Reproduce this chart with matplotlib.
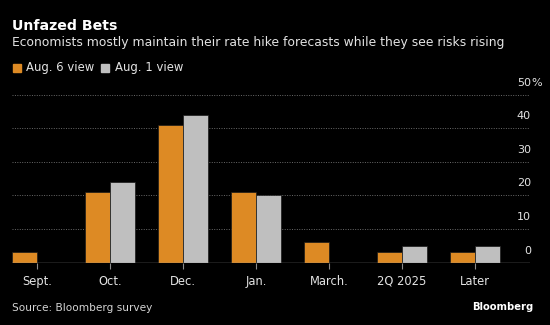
import matplotlib.pyplot as plt
import numpy as np

# values (percent of economists)
periods = ['Sept.', 'Oct.', 'Dec.', 'Jan.', 'March.', '2Q 2025', 'Later']
aug6 = [3, 21, 41, 21, 6, 3, 3]
aug1 = [0, 24, 44, 20, 0, 5, 5]
yticks = [0, 10, 20, 30, 40, 50]

orange = '#dd8a24'
grey = '#bfbfbf'
bg = 'black'
txt = '#e3e3e3'
plt.rcParams['font.family'] = ['DejaVu Sans']

fig = plt.figure(figsize=(5.5, 3.25), dpi=100, facecolor=bg)
ax = fig.add_axes([12 / 550, 1 - 262.5 / 325, 518 / 550, 168 / 325])
ax.set_facecolor(bg)

x = np.arange(len(periods))
w = 0.347
ax.bar(x - w / 2, aug6, w, color=orange, edgecolor='#1a1a1a', linewidth=0.5, zorder=3)
ax.bar(x + w / 2, aug1, w, color=grey, edgecolor='#1a1a1a', linewidth=0.5, zorder=3)

ax.set_xlim(-0.342, 6.753)
ax.set_ylim(0, 50)

# dotted gridlines + baseline
for v in yticks[1:]:
    ax.axhline(v, color='#6a6a6a', linestyle=(0, (1, 1.5)), linewidth=0.7, zorder=1)
ax.axhline(0, color='#8c8c8c', linewidth=1.0, zorder=4)

for s in ax.spines.values():
    s.set_visible(False)
ax.set_yticks([])
ax.set_xticks(x)
ax.set_xticklabels(periods, color=txt, fontsize=8.3)
ax.tick_params(axis='x', length=4, width=0.8, color='#8c8c8c', pad=5)

# right hand labels sit above their gridline, "%" hangs after the number
for v in yticks:
    yy = ax.transData.transform((0, v))[1] + 12
    fy = yy / 325
    fig.text(531 / 550, fy, str(v), color=txt, fontsize=8, ha='right', va='center')
    if v == 50:
        fig.text(531 / 550, fy, '%', color=txt, fontsize=8, ha='left', va='center')

# header
fig.text(12 / 550, 1 - 26 / 325, 'Unfazed Bets', color='white', fontsize=10.2,
         fontweight='bold', va='center')
fig.text(12 / 550, 1 - 42.5 / 325,
         'Economists mostly maintain their rate hike forecasts while they see risks rising',
         color=txt, fontsize=8.9, va='center')

# legend
fig.patches.append(plt.Rectangle((13 / 550, 1 - 72 / 325), 8 / 550, 8 / 325,
                                 transform=fig.transFigure, color=orange))
fig.text(26 / 550, 1 - 67.5 / 325, 'Aug. 6 view', color=txt, fontsize=8.4, va='center')
fig.patches.append(plt.Rectangle((101 / 550, 1 - 72 / 325), 8 / 550, 8 / 325,
                                 transform=fig.transFigure, color=grey))
fig.text(115 / 550, 1 - 67.5 / 325, 'Aug. 1 view', color=txt, fontsize=8.4, va='center')

# footer
fig.text(12 / 550, 1 - 308 / 325, 'Source: Bloomberg survey', color='#d4d4d4',
         fontsize=7.6, va='center')
fig.text(533 / 550, 1 - 307 / 325, 'Bloomberg', color='white', fontsize=7.2,
         fontweight='bold', ha='right', va='center')

fig.savefig('out.png', dpi=100, facecolor=bg)
